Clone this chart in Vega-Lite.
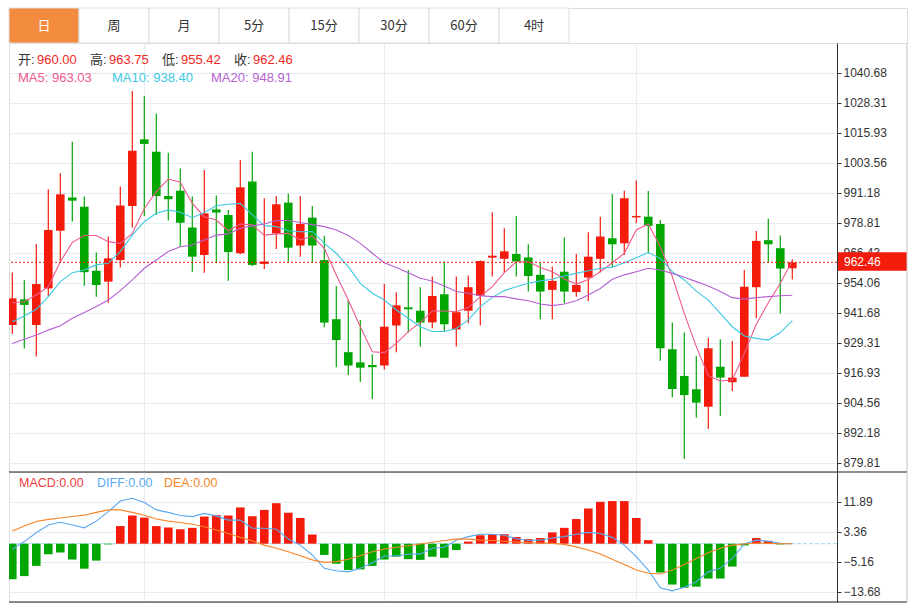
{
  "$schema": "https://vega.github.io/schema/vega-lite/v6.json",
  "padding": {"left": 7, "top": 7, "right": 0, "bottom": 0},
  "autosize": {"type": "pad"},
  "background": "#ffffff",
  "spacing": 0,
  "bounds": "flush",
  "config": {
    "view": {"stroke": "#dddddd", "strokeWidth": 1},
    "concat": {"spacing": 0},
    "axis": {"labelFont": "Liberation Sans", "labelFontSize": 12, "labelColor": "#333333", "gridColor": "#e6ecf3", "gridWidth": 1, "domainColor": "#333333", "tickColor": "#333333", "tickSize": 4, "labelPadding": 2}
  },
  "datasets": {
    "tabs": [
      {"tab": "日"}, {"tab": "周"}, {"tab": "月"}, {"tab": "5分"}, {"tab": "15分"}, {"tab": "30分"}, {"tab": "60分"}, {"tab": "4时"}
    ],
    "k": [
      {"i":0,"o":936.6,"h":958.3,"l":932.9,"c":947.6,"m5":945.8,"m10":938.0,"m20":929.0,"macd":-10.1,"dif":-1.6,"dea":3.6},
      {"i":1,"o":947.2,"h":955.2,"l":926.9,"c":944.9,"m5":946.2,"m10":940.3,"m20":930.7,"macd":-9.2,"dif":0.6,"dea":5.0},
      {"i":2,"o":936.6,"h":970.0,"l":923.6,"c":953.5,"m5":949.0,"m10":943.1,"m20":932.5,"macd":-6.3,"dif":3.1,"dea":6.3},
      {"i":3,"o":951.7,"h":992.6,"l":948.6,"c":975.8,"m5":952.4,"m10":948.3,"m20":934.5,"macd":-3.0,"dif":5.3,"dea":6.9},
      {"i":4,"o":975.5,"h":999.2,"l":962.7,"c":990.5,"m5":962.7,"m10":954.5,"m20":936.3,"macd":-2.5,"dif":6.1,"dea":7.3},
      {"i":5,"o":989.2,"h":1012.2,"l":979.3,"c":987.9,"m5":970.7,"m10":958.2,"m20":939.4,"macd":-4.5,"dif":5.3,"dea":7.7},
      {"i":6,"o":985.4,"h":989.6,"l":952.7,"c":958.4,"m5":973.5,"m10":959.3,"m20":941.8,"macd":-7.1,"dif":4.5,"dea":8.1},
      {"i":7,"o":959.0,"h":966.5,"l":948.3,"c":953.1,"m5":973.5,"m10":961.4,"m20":944.2,"macd":-4.8,"dif":6.4,"dea":8.9},
      {"i":8,"o":954.5,"h":973.1,"l":945.8,"c":964.1,"m5":971.0,"m10":962.1,"m20":946.9,"macd":-0.2,"dif":9.1,"dea":9.6},
      {"i":9,"o":963.4,"h":993.7,"l":960.3,"c":985.9,"m5":970.3,"m10":966.9,"m20":950.8,"macd":5.0,"dif":12.1,"dea":9.6},
      {"i":10,"o":985.7,"h":1033.1,"l":976.8,"c":1008.5,"m5":974.4,"m10":973.7,"m20":955.2,"macd":8.0,"dif":12.9,"dea":8.9},
      {"i":11,"o":1013.2,"h":1031.1,"l":981.6,"c":1011.3,"m5":984.7,"m10":979.2,"m20":960.0,"macd":7.4,"dif":11.7,"dea":8.1},
      {"i":12,"o":1008.1,"h":1023.9,"l":982.0,"c":989.8,"m5":991.6,"m10":982.7,"m20":963.4,"macd":5.0,"dif":9.6,"dea":7.0},
      {"i":13,"o":989.8,"h":1007.7,"l":979.7,"c":988.5,"m5":996.8,"m10":984.1,"m20":966.9,"macd":4.6,"dif":8.9,"dea":6.4},
      {"i":14,"o":992.0,"h":1001.2,"l":968.9,"c":978.8,"m5":995.5,"m10":983.1,"m20":968.9,"macd":4.1,"dif":8.0,"dea":6.0},
      {"i":15,"o":976.8,"h":989.6,"l":958.6,"c":964.8,"m5":986.8,"m10":980.9,"m20":969.6,"macd":4.5,"dif":7.7,"dea":5.5},
      {"i":16,"o":965.5,"h":1000.6,"l":958.2,"c":982.7,"m5":981.3,"m10":983.0,"m20":971.7,"macd":7.7,"dif":8.6,"dea":4.8},
      {"i":17,"o":984.3,"h":990.0,"l":962.1,"c":983.0,"m5":979.9,"m10":985.8,"m20":973.7,"macd":8.1,"dif":7.9,"dea":3.9},
      {"i":18,"o":982.0,"h":984.1,"l":954.9,"c":966.7,"m5":975.5,"m10":986.4,"m20":974.2,"macd":8.0,"dif":6.7,"dea":2.9},
      {"i":19,"o":966.2,"h":1004.7,"l":965.8,"c":993.4,"m5":978.3,"m10":986.8,"m20":976.5,"macd":10.3,"dif":6.7,"dea":1.8},
      {"i":20,"o":995.8,"h":1008.1,"l":961.0,"c":961.4,"m5":977.9,"m10":982.0,"m20":977.5,"macd":7.8,"dif":4.4,"dea":0.8},
      {"i":21,"o":961.8,"h":988.9,"l":959.7,"c":962.8,"m5":973.7,"m10":977.6,"m20":978.3,"macd":9.6,"dif":4.4,"dea":-0.4},
      {"i":22,"o":974.4,"h":989.8,"l":968.0,"c":986.4,"m5":974.2,"m10":977.2,"m20":979.7,"macd":11.5,"dif":4.1,"dea":-1.3},
      {"i":23,"o":987.1,"h":990.9,"l":962.7,"c":968.5,"m5":974.4,"m10":975.5,"m20":979.7,"macd":8.8,"dif":1.3,"dea":-2.3},
      {"i":24,"o":969.4,"h":989.8,"l":964.8,"c":978.3,"m5":971.7,"m10":975.1,"m20":978.9,"macd":7.3,"dif":-0.4,"dea":-3.4},
      {"i":25,"o":980.9,"h":985.7,"l":962.3,"c":969.4,"m5":973.3,"m10":975.2,"m20":978.0,"macd":2.6,"dif":-3.2,"dea":-4.6},
      {"i":26,"o":963.4,"h":973.3,"l":935.7,"c":937.6,"m5":968.2,"m10":970.3,"m20":977.2,"macd":-3.2,"dif":-7.0,"dea":-5.3},
      {"i":27,"o":939.0,"h":952.7,"l":919.2,"c":930.4,"m5":957.2,"m10":966.2,"m20":975.8,"macd":-5.7,"dif":-7.7,"dea":-5.1},
      {"i":28,"o":925.4,"h":946.9,"l":916.0,"c":919.9,"m5":946.9,"m10":960.7,"m20":973.5,"macd":-7.5,"dif":-8.0,"dea":-4.4},
      {"i":29,"o":921.2,"h":938.7,"l":913.1,"c":919.0,"m5":935.9,"m10":953.8,"m20":970.3,"macd":-7.3,"dif":-7.0,"dea":-3.4},
      {"i":30,"o":920.1,"h":924.5,"l":906.1,"c":919.2,"m5":925.6,"m10":949.7,"m20":966.2,"macd":-6.3,"dif":-5.4,"dea":-2.3},
      {"i":31,"o":919.9,"h":953.5,"l":918.3,"c":935.9,"m5":925.2,"m10":946.9,"m20":962.3,"macd":-4.5,"dif":-3.5,"dea":-1.5},
      {"i":32,"o":936.4,"h":950.1,"l":925.4,"c":944.7,"m5":929.0,"m10":942.8,"m20":960.3,"macd":-3.7,"dif":-3.5,"dea":-1.0},
      {"i":33,"o":943.9,"h":959.3,"l":933.5,"c":943.1,"m5":933.9,"m10":939.4,"m20":958.2,"macd":-4.4,"dif":-3.0,"dea":-0.6},
      {"i":34,"o":942.5,"h":952.2,"l":927.7,"c":937.6,"m5":937.6,"m10":935.9,"m20":955.9,"macd":-4.6,"dif":-2.9,"dea":-0.1},
      {"i":35,"o":937.7,"h":956.6,"l":935.3,"c":948.6,"m5":942.4,"m10":933.9,"m20":954.8,"macd":-3.7,"dif":-1.3,"dea":0.4},
      {"i":36,"o":949.3,"h":962.8,"l":933.9,"c":936.9,"m5":942.4,"m10":933.9,"m20":952.7,"macd":-4.0,"dif":-1.0,"dea":0.9},
      {"i":37,"o":934.8,"h":956.6,"l":927.7,"c":941.9,"m5":942.1,"m10":935.2,"m20":950.4,"macd":-1.8,"dif":1.0,"dea":1.3},
      {"i":38,"o":942.5,"h":957.0,"l":937.3,"c":952.2,"m5":943.8,"m10":938.7,"m20":949.7,"macd":0.6,"dif":2.0,"dea":1.3},
      {"i":39,"o":948.7,"h":963.2,"l":936.4,"c":963.0,"m5":948.3,"m10":944.2,"m20":948.7,"macd":2.4,"dif":2.7,"dea":1.0},
      {"i":40,"o":964.4,"h":983.1,"l":956.6,"c":965.2,"m5":952.4,"m10":948.0,"m20":948.3,"macd":2.7,"dif":2.7,"dea":0.9},
      {"i":41,"o":963.9,"h":976.5,"l":958.2,"c":967.0,"m5":958.2,"m10":950.8,"m20":948.3,"macd":2.7,"dif":2.4,"dea":0.7},
      {"i":42,"o":965.9,"h":981.6,"l":956.6,"c":962.8,"m5":962.7,"m10":952.4,"m20":947.4,"macd":1.9,"dif":1.4,"dea":0.5},
      {"i":43,"o":964.5,"h":969.9,"l":950.4,"c":956.8,"m5":962.7,"m10":953.8,"m20":946.6,"macd":1.3,"dif":0.9,"dea":0.3},
      {"i":44,"o":957.3,"h":962.3,"l":939.0,"c":950.4,"m5":960.3,"m10":954.8,"m20":945.3,"macd":1.6,"dif":1.0,"dea":0.2},
      {"i":45,"o":951.1,"h":960.7,"l":939.0,"c":954.8,"m5":958.6,"m10":955.5,"m20":944.6,"macd":3.2,"dif":1.6,"dea":0.1},
      {"i":46,"o":958.6,"h":972.7,"l":945.6,"c":950.4,"m5":955.6,"m10":956.8,"m20":945.3,"macd":4.5,"dif":2.0,"dea":-0.2},
      {"i":47,"o":950.2,"h":965.9,"l":948.3,"c":953.1,"m5":953.5,"m10":957.9,"m20":946.6,"macd":7.0,"dif":2.7,"dea":-0.9},
      {"i":48,"o":956.2,"h":974.9,"l":946.5,"c":964.8,"m5":955.4,"m10":959.0,"m20":949.0,"macd":10.0,"dif":3.2,"dea":-1.8},
      {"i":49,"o":963.9,"h":981.3,"l":958.4,"c":973.1,"m5":958.6,"m10":960.0,"m20":951.7,"macd":11.9,"dif":2.9,"dea":-2.9},
      {"i":50,"o":972.4,"h":990.7,"l":960.4,"c":969.9,"m5":962.3,"m10":960.5,"m20":955.5,"macd":12.1,"dif":1.8,"dea":-4.4},
      {"i":51,"o":970.3,"h":992.0,"l":965.5,"c":988.9,"m5":966.2,"m10":962.3,"m20":957.3,"macd":12.1,"dif":-0.4,"dea":-5.9},
      {"i":52,"o":981.0,"h":996.2,"l":978.6,"c":981.6,"m5":975.8,"m10":964.4,"m20":958.6,"macd":7.3,"dif":-3.7,"dea":-7.5},
      {"i":53,"o":981.3,"h":991.9,"l":966.2,"c":977.5,"m5":978.3,"m10":966.5,"m20":960.0,"macd":1.0,"dif":-7.5,"dea":-8.4},
      {"i":54,"o":978.3,"h":979.9,"l":921.9,"c":927.0,"m5":968.9,"m10":964.1,"m20":959.3,"macd":-8.2,"dif":-12.5,"dea":-8.6},
      {"i":55,"o":926.6,"h":937.6,"l":906.8,"c":910.2,"m5":956.6,"m10":958.6,"m20":957.9,"macd":-11.6,"dif":-13.4,"dea":-7.5},
      {"i":56,"o":915.6,"h":933.5,"l":881.4,"c":907.7,"m5":941.4,"m10":955.2,"m20":956.3,"macd":-12.5,"dif":-12.4,"dea":-5.9},
      {"i":57,"o":910.1,"h":923.8,"l":898.4,"c":904.6,"m5":927.7,"m10":950.6,"m20":954.5,"macd":-12.2,"dif":-10.8,"dea":-4.2},
      {"i":58,"o":902.9,"h":931.4,"l":893.7,"c":927.0,"m5":915.7,"m10":946.9,"m20":952.7,"macd":-9.9,"dif":-8.0,"dea":-2.6},
      {"i":59,"o":919.4,"h":930.7,"l":899.1,"c":914.9,"m5":913.5,"m10":941.4,"m20":950.4,"macd":-9.9,"dif":-7.0,"dea":-1.3},
      {"i":60,"o":913.0,"h":930.0,"l":909.4,"c":914.9,"m5":913.9,"m10":935.9,"m20":947.9,"macd":-6.5,"dif":-4.2,"dea":-0.4},
      {"i":61,"o":915.3,"h":959.3,"l":915.3,"c":952.4,"m5":924.9,"m10":932.1,"m20":947.3,"macd":-0.5,"dif":-0.1,"dea":-0.1},
      {"i":62,"o":952.2,"h":975.4,"l":939.4,"c":971.3,"m5":936.9,"m10":931.1,"m20":947.9,"macd":1.6,"dif":1.0,"dea":0.2},
      {"i":63,"o":971.6,"h":980.4,"l":962.5,"c":969.9,"m5":945.8,"m10":930.4,"m20":948.3,"macd":0.8,"dif":0.7,"dea":0.1},
      {"i":64,"o":968.3,"h":973.5,"l":941.4,"c":959.9,"m5":953.8,"m10":933.5,"m20":948.7,"macd":-0.2,"dif":0.1,"dea":0.0},
      {"i":65,"o":960.00,"h":963.75,"l":955.42,"c":962.46,"m5":963.03,"m10":938.40,"m20":948.91,"macd":0.0,"dif":0.0,"dea":0.0}
    ]
  },
  "vconcat": [
    {
      "width": 898,
      "height": 35,
      "data": {"name": "tabs"},
      "encoding": {
        "x": {"field": "tab", "type": "nominal", "sort": null, "scale": {"type": "band", "domain": ["日", "周", "月", "5分", "15分", "30分", "60分", "4时"], "range": [0, 560], "paddingInner": 0, "paddingOuter": 0}, "axis": null}
      },
      "layer": [
        {
          "mark": {"type": "rect", "stroke": "#dddddd", "strokeWidth": 1},
          "encoding": {
            "fill": {"condition": {"test": "datum.tab === '日'", "value": "#f28b3d"}, "value": "#ffffff"}
          }
        },
        {
          "mark": {"type": "text", "fontSize": 13, "font": "Noto Sans CJK SC", "baseline": "middle"},
          "encoding": {
            "text": {"field": "tab"},
            "color": {"condition": {"test": "datum.tab === '日'", "value": "#ffffff"}, "value": "#333333"}
          }
        }
      ]
    },
    {
      "width": 828,
      "height": 429,
      "data": {"name": "k"},
      "layer": [
        {
          "mark": {"type": "rule", "strokeWidth": 1.2, "clip": true},
          "encoding": {
            "x": {"field": "i", "type": "quantitative", "scale": {"domain": [-0.275, 68.725], "nice": false, "zero": false, "padding": 0}, "axis": {"values": [11, 31, 52], "tickCount": 10, "labels": false, "ticks": false, "domain": false, "title": null, "grid": true}},
            "y": {"field": "l", "type": "quantitative", "scale": {"domain": [875.97, 1052.94], "nice": false, "zero": false, "padding": 0}, "axis": {"orient": "right", "values": [879.81, 892.18, 904.56, 916.93, 929.31, 941.68, 954.06, 966.43, 978.81, 991.18, 1003.56, 1015.93, 1028.31, 1040.68], "tickCount": 30, "format": ".2f", "title": null, "grid": true, "labelOverlap": false}},
            "y2": {"field": "h"},
            "color": {"condition": {"test": "datum.c >= datum.o", "value": "#f31c0c"}, "value": "#02a602"}
          }
        },
        {
          "mark": {"type": "bar", "width": 8.6, "clip": true},
          "encoding": {
            "x": {"field": "i", "type": "quantitative"},
            "y": {"field": "o", "type": "quantitative"},
            "y2": {"field": "c"},
            "color": {"condition": {"test": "datum.c >= datum.o", "value": "#f31c0c"}, "value": "#02a602"}
          }
        },
        {
          "mark": {"type": "line", "strokeWidth": 1.1, "color": "#ee5a8e", "clip": true},
          "encoding": {"x": {"field": "i", "type": "quantitative"}, "y": {"field": "m5", "type": "quantitative"}}
        },
        {
          "mark": {"type": "line", "strokeWidth": 1.1, "color": "#3ec8e2", "clip": true},
          "encoding": {"x": {"field": "i", "type": "quantitative"}, "y": {"field": "m10", "type": "quantitative"}}
        },
        {
          "mark": {"type": "line", "strokeWidth": 1.1, "color": "#b65fd2", "clip": true},
          "encoding": {"x": {"field": "i", "type": "quantitative"}, "y": {"field": "m20", "type": "quantitative"}}
        },
        {
          "data": {"values": [{"v": 962.46}]},
          "mark": {"type": "rule", "color": "#f31c0c", "strokeDash": [2, 2], "strokeWidth": 1},
          "encoding": {"y": {"field": "v", "type": "quantitative"}}
        },
        {
          "data": {"values": [{"t": "962.46"}]},
          "mark": {"type": "rect", "color": "#f31c0c", "clip": false},
          "encoding": {"x": {"datum": 68.81}, "x2": {"datum": 74.558}, "y": {"datum": 959.0}, "y2": {"datum": 966.6}}
        },
        {
          "data": {"values": [{"t": "962.46"}]},
          "mark": {"type": "text", "color": "#ffffff", "align": "left", "baseline": "middle", "fontSize": 12, "font": "Liberation Sans", "clip": false},
          "encoding": {"x": {"datum": 69.31}, "y": {"datum": 962.8}, "text": {"field": "t"}}
        },
        {
          "data": {"values": [{"t": "border"}]},
          "mark": {"type": "rule", "color": "#c4c4c4", "clip": false},
          "encoding": {"x": {"datum": 74.558}}
        },
        {
          "data": {"values": [{"t": "开:"}]},
          "mark": {"type": "text", "align": "left", "baseline": "middle", "fontSize": 13, "font": "Liberation Sans, Noto Sans CJK SC", "color": "#333333"},
          "encoding": {"x": {"datum": 0.475}, "y": {"datum": 1045.9}, "text": {"field": "t"}}
        },
        {
          "data": {"values": [{"t": "960.00"}]},
          "mark": {"type": "text", "align": "left", "baseline": "middle", "fontSize": 13, "font": "Liberation Sans", "color": "#f5271c"},
          "encoding": {"x": {"datum": 2.058}, "y": {"datum": 1045.9}, "text": {"field": "t"}}
        },
        {
          "data": {"values": [{"t": "高:"}]},
          "mark": {"type": "text", "align": "left", "baseline": "middle", "fontSize": 13, "font": "Liberation Sans, Noto Sans CJK SC", "color": "#333333"},
          "encoding": {"x": {"datum": 6.475}, "y": {"datum": 1045.9}, "text": {"field": "t"}}
        },
        {
          "data": {"values": [{"t": "963.75"}]},
          "mark": {"type": "text", "align": "left", "baseline": "middle", "fontSize": 13, "font": "Liberation Sans", "color": "#f5271c"},
          "encoding": {"x": {"datum": 8.058}, "y": {"datum": 1045.9}, "text": {"field": "t"}}
        },
        {
          "data": {"values": [{"t": "低:"}]},
          "mark": {"type": "text", "align": "left", "baseline": "middle", "fontSize": 13, "font": "Liberation Sans, Noto Sans CJK SC", "color": "#333333"},
          "encoding": {"x": {"datum": 12.475}, "y": {"datum": 1045.9}, "text": {"field": "t"}}
        },
        {
          "data": {"values": [{"t": "955.42"}]},
          "mark": {"type": "text", "align": "left", "baseline": "middle", "fontSize": 13, "font": "Liberation Sans", "color": "#f5271c"},
          "encoding": {"x": {"datum": 14.058}, "y": {"datum": 1045.9}, "text": {"field": "t"}}
        },
        {
          "data": {"values": [{"t": "收:"}]},
          "mark": {"type": "text", "align": "left", "baseline": "middle", "fontSize": 13, "font": "Liberation Sans, Noto Sans CJK SC", "color": "#333333"},
          "encoding": {"x": {"datum": 18.475}, "y": {"datum": 1045.9}, "text": {"field": "t"}}
        },
        {
          "data": {"values": [{"t": "962.46"}]},
          "mark": {"type": "text", "align": "left", "baseline": "middle", "fontSize": 13, "font": "Liberation Sans", "color": "#f5271c"},
          "encoding": {"x": {"datum": 20.058}, "y": {"datum": 1045.9}, "text": {"field": "t"}}
        },
        {
          "data": {"values": [{"t": "MA5: 963.03"}]},
          "mark": {"type": "text", "align": "left", "baseline": "middle", "fontSize": 13, "font": "Liberation Sans", "color": "#ee5a8e"},
          "encoding": {"x": {"datum": 0.475}, "y": {"datum": 1038.6}, "text": {"field": "t"}}
        },
        {
          "data": {"values": [{"t": "MA10: 938.40"}]},
          "mark": {"type": "text", "align": "left", "baseline": "middle", "fontSize": 13, "font": "Liberation Sans", "color": "#3ec8e2"},
          "encoding": {"x": {"datum": 8.308}, "y": {"datum": 1038.6}, "text": {"field": "t"}}
        },
        {
          "data": {"values": [{"t": "MA20: 948.91"}]},
          "mark": {"type": "text", "align": "left", "baseline": "middle", "fontSize": 13, "font": "Liberation Sans", "color": "#b65fd2"},
          "encoding": {"x": {"datum": 16.558}, "y": {"datum": 1038.6}, "text": {"field": "t"}}
        }
      ]
    },
    {
      "width": 828,
      "height": 130,
      "data": {"name": "k"},
      "layer": [
        {
          "data": {"values": [{"v": 0}]},
          "mark": {"type": "rule", "color": "#a6d9ee", "strokeDash": [4, 2], "strokeWidth": 1},
          "encoding": {
            "y": {"field": "v", "type": "quantitative", "scale": {"domain": [-16.56, 20.36], "nice": false, "zero": false, "padding": 0}, "axis": {"orient": "right", "values": [11.89, 3.36, -5.16, -13.68], "tickCount": 10, "format": ".2f", "title": null, "grid": true, "labelOverlap": false}}
          }
        },
        {
          "mark": {"type": "bar", "width": 8.6, "clip": true},
          "encoding": {
            "x": {"field": "i", "type": "quantitative", "scale": {"domain": [-0.275, 68.725], "nice": false, "zero": false, "padding": 0}, "axis": {"values": [11, 31, 52], "tickCount": 10, "labels": false, "ticks": false, "domain": false, "title": null, "grid": true}},
            "y": {"field": "macd", "type": "quantitative"},
            "y2": {"datum": 0},
            "color": {"condition": {"test": "datum.macd >= 0", "value": "#f31c0c"}, "value": "#02a602"}
          }
        },
        {
          "mark": {"type": "line", "strokeWidth": 1.1, "color": "#5aa9f0", "clip": true},
          "encoding": {"x": {"field": "i", "type": "quantitative"}, "y": {"field": "dif", "type": "quantitative"}}
        },
        {
          "mark": {"type": "line", "strokeWidth": 1.1, "color": "#f7852a", "clip": true},
          "encoding": {"x": {"field": "i", "type": "quantitative"}, "y": {"field": "dea", "type": "quantitative"}}
        },
        {
          "data": {"values": [{"t": "top"}]},
          "mark": {"type": "rule", "color": "#222222", "strokeWidth": 1.2, "clip": false},
          "encoding": {"x": {"datum": -0.275}, "x2": {"datum": 74.558}, "y": {"datum": 20.36}}
        },
        {
          "data": {"values": [{"t": "bottom"}]},
          "mark": {"type": "rule", "color": "#222222", "strokeWidth": 1.2, "clip": false},
          "encoding": {"x": {"datum": -0.275}, "x2": {"datum": 74.558}, "y": {"datum": -16.56}}
        },
        {
          "data": {"values": [{"t": "border"}]},
          "mark": {"type": "rule", "color": "#c4c4c4", "clip": false},
          "encoding": {"x": {"datum": 74.558}}
        },
        {
          "data": {"values": [{"t": "MACD:0.00"}]},
          "mark": {"type": "text", "align": "left", "baseline": "middle", "fontSize": 12.5, "font": "Liberation Sans", "color": "#ef3b3b"},
          "encoding": {"x": {"datum": 0.558}, "y": {"datum": 17.15}, "text": {"field": "t"}}
        },
        {
          "data": {"values": [{"t": "DIFF:0.00"}]},
          "mark": {"type": "text", "align": "left", "baseline": "middle", "fontSize": 12.5, "font": "Liberation Sans", "color": "#5aa9f0"},
          "encoding": {"x": {"datum": 7.058}, "y": {"datum": 17.15}, "text": {"field": "t"}}
        },
        {
          "data": {"values": [{"t": "DEA:0.00"}]},
          "mark": {"type": "text", "align": "left", "baseline": "middle", "fontSize": 12.5, "font": "Liberation Sans", "color": "#f7852a"},
          "encoding": {"x": {"datum": 12.642}, "y": {"datum": 17.15}, "text": {"field": "t"}}
        }
      ]
    }
  ]
}
